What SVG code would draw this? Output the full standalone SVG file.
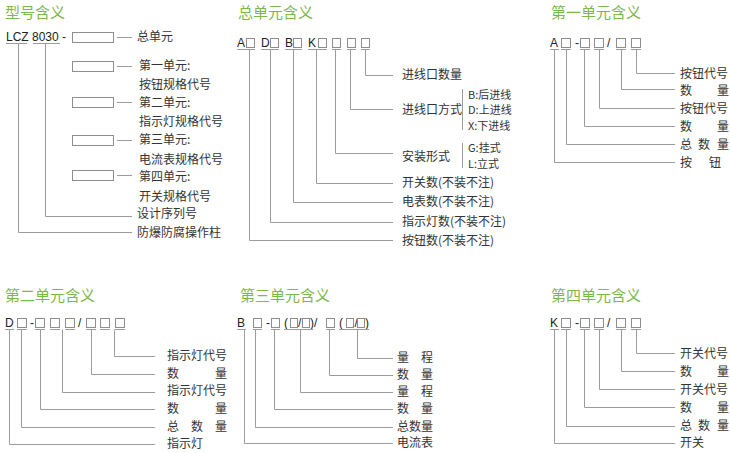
<svg xmlns="http://www.w3.org/2000/svg" width="730" height="453" viewBox="0 0 730 453">
<style>
.t{font-family:"Noto Sans CJK SC","Noto Sans",sans-serif;font-size:12px;fill:#333}
.s{font-size:11px}
.h{font-family:"Noto Sans CJK SC","Noto Sans",sans-serif;font-size:15px;fill:#7db84a}
.c{font-family:"Liberation Sans",Arial,sans-serif;font-size:12px;fill:#222}
.ln{stroke:#9c9c9c;stroke-width:1;fill:none}
.bx{fill:#fff;stroke:#8e8e8e;stroke-width:1}
</style>
<rect width="730" height="453" fill="#fff"/>

<!-- Panel 1 -->
<g id="panel-model">
  <text class="h" x="5" y="18">型号含义</text>
  <text class="c" x="6" y="41">LCZ 8030 -</text>
  <g id="p1-boxes">
    <rect class="bx" x="72.5" y="32.5" width="41" height="10"/>
    <rect class="bx" x="72.5" y="61.5" width="41" height="10"/>
    <rect class="bx" x="72.5" y="97.5" width="41" height="10"/>
    <rect class="bx" x="72.5" y="135.5" width="41" height="10"/>
    <rect class="bx" x="72.5" y="170.5" width="41" height="10"/>
  </g>
  <g id="p1-labels">
    <text class="t" x="137" y="41">总单元</text>
    <text class="t" x="139" y="70">第一单元:</text>
    <text class="t" x="139" y="89">按钮规格代号</text>
    <text class="t" x="139" y="107">第二单元:</text>
    <text class="t" x="139" y="126">指示灯规格代号</text>
    <text class="t" x="139" y="144">第三单元:</text>
    <text class="t" x="139" y="164">电流表规格代号</text>
    <text class="t" x="139" y="181">第四单元:</text>
    <text class="t" x="139" y="201">开关规格代号</text>
    <text class="t" x="137" y="218">设计序列号</text>
    <text class="t" x="137" y="237">防爆防腐操作柱</text>
  </g>
</g>

<!-- Panel 2 -->
<g id="panel-total">
  <text class="h" x="238" y="18">总单元含义</text>
  <text class="c" x="237" y="47">A</text>
  <text class="c" x="261" y="47">D</text>
  <text class="c" x="285" y="47">B</text>
  <text class="c" x="308" y="47">K</text>
  <g id="p2-boxes">
    <rect class="bx" x="246.5" y="38.5" width="8" height="9"/>
    <rect class="bx" x="270.5" y="38.5" width="8" height="9"/>
    <rect class="bx" x="293.5" y="38.5" width="8" height="9"/>
    <rect class="bx" x="318.5" y="38.5" width="8" height="9"/>
    <rect class="bx" x="332.5" y="38.5" width="8" height="9"/>
    <rect class="bx" x="347.5" y="38.5" width="8" height="9"/>
    <rect class="bx" x="361.5" y="38.5" width="8" height="9"/>
  </g>
  <g id="p2-labels">
    <text class="t" x="402" y="79">进线口数量</text>
    <text class="t" x="402" y="114">进线口方式</text>
    <text class="t s" x="468" y="99">B:后进线</text>
    <text class="t s" x="468" y="114">D:上进线</text>
    <text class="t s" x="468" y="130">X:下进线</text>
    <text class="t" x="402" y="161">安装形式</text>
    <text class="t s" x="468" y="152">G:挂式</text>
    <text class="t s" x="468" y="168">L:立式</text>
    <text class="t" x="402" y="187">开关数(不装不注)</text>
    <text class="t" x="402" y="206">电表数(不装不注)</text>
    <text class="t" x="402" y="226">指示灯数(不装不注)</text>
    <text class="t" x="402" y="245">按钮数(不装不注)</text>
  </g>
</g>

<!-- Panel 3 -->
<g id="panel-unit1">
  <text class="h" x="551" y="18">第一单元含义</text>
  <text class="c" x="550" y="47">A</text>
  <text class="c" x="575" y="47">-</text>
  <text class="c" x="607" y="47">/</text>
  <g id="p3-boxes">
    <rect class="bx" x="561.5" y="38.5" width="9" height="9"/>
    <rect class="bx" x="580.5" y="38.5" width="9" height="9"/>
    <rect class="bx" x="594.5" y="38.5" width="9" height="9"/>
    <rect class="bx" x="616.5" y="38.5" width="9" height="9"/>
    <rect class="bx" x="631.5" y="38.5" width="9" height="9"/>
  </g>
  <g id="p3-labels">
    <text class="t" x="680" y="78">按钮代号</text>
    <text class="t" x="680 717" y="95">数量</text>
    <text class="t" x="680" y="113">按钮代号</text>
    <text class="t" x="680 717" y="131">数量</text>
    <text class="t" x="680 698 717" y="149">总数量</text>
    <text class="t" x="680 709" y="167">按钮</text>
  </g>
</g>

<!-- Panel 4 -->
<g id="panel-unit2">
  <text class="h" x="5" y="301">第二单元含义</text>
  <text class="c" x="5" y="327">D</text>
  <text class="c" x="30" y="327">-</text>
  <text class="c" x="78" y="327">/</text>
  <g id="p4-boxes">
    <rect class="bx" x="17.5" y="318.5" width="9" height="9"/>
    <rect class="bx" x="35.5" y="318.5" width="9" height="9"/>
    <rect class="bx" x="50.5" y="318.5" width="9" height="9"/>
    <rect class="bx" x="65.5" y="318.5" width="9" height="9"/>
    <rect class="bx" x="86.5" y="318.5" width="9" height="9"/>
    <rect class="bx" x="100.5" y="318.5" width="9" height="9"/>
    <rect class="bx" x="115.5" y="318.5" width="9" height="9"/>
  </g>
  <g id="p4-labels">
    <text class="t" x="167" y="360">指示灯代号</text>
    <text class="t" x="167 215" y="378">数量</text>
    <text class="t" x="167" y="395">指示灯代号</text>
    <text class="t" x="167 215" y="413">数量</text>
    <text class="t" x="167 191 215" y="431">总数量</text>
    <text class="t" x="167" y="448">指示灯</text>
  </g>
</g>

<!-- Panel 5 -->
<g id="panel-unit3">
  <text class="h" x="240" y="301">第三单元含义</text>
  <text class="c" x="237" y="327">B</text>
  <text class="c" x="266" y="327">-</text>
  <text class="c" x="284" y="327">(</text>
  <text class="c" x="298" y="327">/</text>
  <text class="c" x="310" y="327">)/</text>
  <text class="c" x="339" y="327">(</text>
  <text class="c" x="354.5" y="327">/</text>
  <text class="c" x="365" y="327">)</text>
  <g id="p5-boxes">
    <rect class="bx" x="253.5" y="318.5" width="8" height="9"/>
    <rect class="bx" x="271.5" y="318.5" width="8" height="9"/>
    <rect class="bx" x="290.5" y="318.5" width="7" height="9"/>
    <rect class="bx" x="302.5" y="318.5" width="7" height="9"/>
    <rect class="bx" x="326.5" y="318.5" width="8" height="9"/>
    <rect class="bx" x="346.5" y="318.5" width="7" height="9"/>
    <rect class="bx" x="357.5" y="318.5" width="7" height="9"/>
  </g>
  <g id="p5-labels">
    <text class="t" x="397 421" y="362">量程</text>
    <text class="t" x="397 421" y="379">数量</text>
    <text class="t" x="397 421" y="396">量程</text>
    <text class="t" x="397 421" y="413">数量</text>
    <text class="t" x="397" y="431">总数量</text>
    <text class="t" x="397" y="447">电流表</text>
  </g>
</g>

<!-- Panel 6 -->
<g id="panel-unit4">
  <text class="h" x="551" y="301">第四单元含义</text>
  <text class="c" x="550" y="327">K</text>
  <text class="c" x="575" y="327">-</text>
  <text class="c" x="607" y="327">/</text>
  <g id="p6-boxes">
    <rect class="bx" x="561.5" y="318.5" width="9" height="9"/>
    <rect class="bx" x="580.5" y="318.5" width="9" height="9"/>
    <rect class="bx" x="594.5" y="318.5" width="9" height="9"/>
    <rect class="bx" x="616.5" y="318.5" width="9" height="9"/>
    <rect class="bx" x="631.5" y="318.5" width="9" height="9"/>
  </g>
  <g id="p6-labels">
    <text class="t" x="680" y="358">开关代号</text>
    <text class="t" x="680 717" y="376">数量</text>
    <text class="t" x="680" y="394">开关代号</text>
    <text class="t" x="680 717" y="412">数量</text>
    <text class="t" x="680 698 717" y="430">总数量</text>
    <text class="t" x="680" y="447">开关</text>
  </g>
</g>

<!-- Connectors -->
<g id="connectors" class="ln">
  <!-- panel 1 -->
  <path d="M6,43.5H27M33,43.5H60"/>
  <path d="M18.5,43.5V232.5H132"/>
  <path d="M45.5,43.5V216.5H132"/>
  <path d="M117,37.5H132M117,66.5H132M117,102.5H132M117,140.5H132M117,175.5H132"/>
  <!-- panel 2 -->
  <path d="M237,49.5H255M261,49.5H279M285,49.5H302M308,49.5H327M332,49.5H341M347,49.5H356M361,49.5H370"/>
  <path d="M249.5,49.5V240.5H393"/>
  <path d="M270.5,49.5V222.5H393"/>
  <path d="M293.5,49.5V202.5H393"/>
  <path d="M316.5,49.5V183.5H393"/>
  <path d="M335.5,49.5V153.5H393"/>
  <path d="M350.5,49.5V109.5H393"/>
  <path d="M365.5,49.5V75.5H393"/>
  <path d="M462.5,89V130M462.5,143V168"/>
  <!-- panel 3 -->
  <path d="M550,49.5H559M561,49.5H571M580,49.5H590M594,49.5H604M616,49.5H626M631,49.5H641"/>
  <path d="M554.5,49.5V162.5H675"/>
  <path d="M566.5,49.5V144.5H675"/>
  <path d="M584.5,49.5V126.5H675"/>
  <path d="M599.5,49.5V108.5H675"/>
  <path d="M621.5,49.5V89.5H675"/>
  <path d="M636.5,49.5V73.5H675"/>
  <!-- panel 4 -->
  <path d="M5,329.5H14M17,329.5H27M35,329.5H45M50,329.5H60M65,329.5H75M86,329.5H96M100,329.5H110M115,329.5H125"/>
  <path d="M9.5,329.5V444.5H155"/>
  <path d="M21.5,329.5V427.5H155"/>
  <path d="M40.5,329.5V409.5H155"/>
  <path d="M62.5,329.5V392.5H155"/>
  <path d="M91.5,329.5V374.5H155"/>
  <path d="M114.5,329.5V356.5H155"/>
  <!-- panel 5 -->
  <path d="M237,329.5H246M253,329.5H262M271,329.5H280M284,329.5H313M326,329.5H335M339,329.5H369"/>
  <path d="M244.5,329.5V443.5H393"/>
  <path d="M255.5,329.5V427.5H393"/>
  <path d="M274.5,329.5V409.5H393"/>
  <path d="M300.5,329.5V392.5H393"/>
  <path d="M329.5,329.5V375.5H393"/>
  <path d="M357.5,329.5V358.5H393"/>
  <!-- panel 6 -->
  <path d="M550,329.5H559M561,329.5H571M580,329.5H590M594,329.5H604M616,329.5H626M631,329.5H641"/>
  <path d="M554.5,329.5V443.5H675"/>
  <path d="M566.5,329.5V426.5H675"/>
  <path d="M584.5,329.5V407.5H675"/>
  <path d="M599.5,329.5V389.5H675"/>
  <path d="M621.5,329.5V371.5H675"/>
  <path d="M636.5,329.5V353.5H675"/>
</g>
</svg>
